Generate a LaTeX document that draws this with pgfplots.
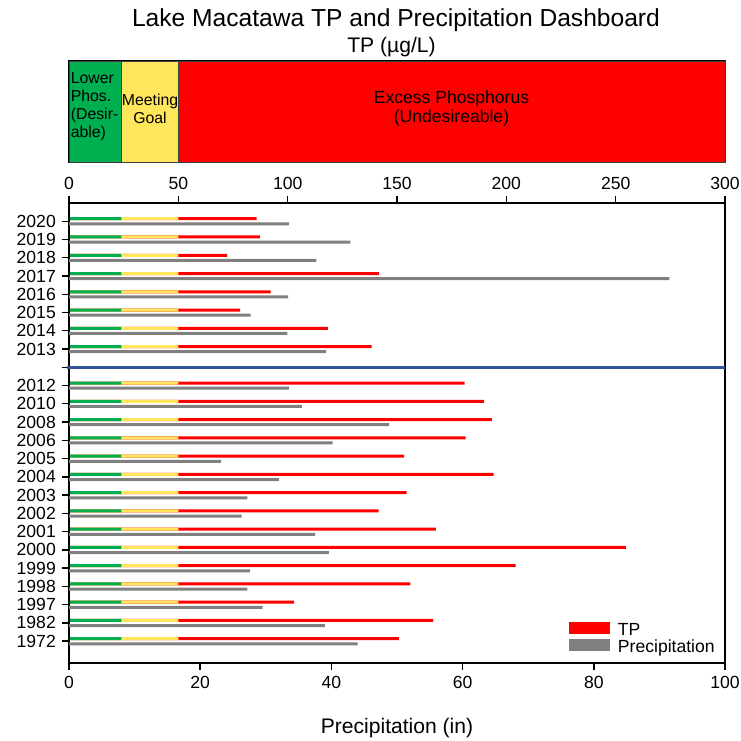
\documentclass[border=0pt]{standalone}
\usepackage{pgfplots}
\pgfplotsset{compat=1.18}
\usepackage{pgfplotstable}
\usepackage{fontspec}
\setmainfont{Liberation Sans}

\definecolor{lowgreen}{RGB}{0,176,80}
\definecolor{goalyellow}{RGB}{255,230,90}
\definecolor{tpred}{RGB}{255,0,0}
\definecolor{precgray}{RGB}{128,128,128}
\definecolor{sepblue}{RGB}{47,85,151}

% pos = row on the y axis (15 is the gap with the blue line)
\pgfplotstableread{
year pos tp    precip low goal
2020 23  85.8  33.5   24  50
2019 22  87.3  42.9   24  50
2018 21  72.3  37.7   24  50
2017 20  141.8 91.5   24  50
2016 19  92.2  33.4   24  50
2015 18  78.2  27.7   24  50
2014 17  118.4 33.3   24  50
2013 16  138.4 39.2   24  50
2012 14  180.9 33.5   24  50
2010 13  189.8 35.5   24  50
2008 12  193.4 48.8   24  50
2006 11  181.4 40.2   24  50
2005 10  153.2 23.2   24  50
2004 9   194.2 32.0   24  50
2003 8   154.4 27.2   24  50
2002 7   141.6 26.3   24  50
2001 6   167.8 37.5   24  50
2000 5   254.7 39.6   24  50
1999 4   204.3 27.6   24  50
1998 3   156.1 27.2   24  50
1997 2   103.0 29.5   24  50
1982 1   166.5 39.0   24  50
1972 0   150.9 44.0   24  50
}\dashdata

\begin{document}
\begin{tikzpicture}
\path[use as bounding box] (-1.38,-1.56) rectangle (13.42,13.26);

\node[font=\fontsize{14}{16}\selectfont] at (6.54,12.85) {Lake Macatawa TP and Precipitation Dashboard};
\node[font=\fontsize{12}{14}\selectfont] at (6.45,12.31) {TP (µg/L)};

% --- colour band (TP scale) ---
\begin{axis}[
  at={(0,10.02cm)}, anchor=south west,
  scale only axis, width=13.12cm, height=2.02cm,
  xmin=0, xmax=300, ymin=0, ymax=1,
  xbar stacked, bar width=2.02cm,
  ticks=none,
  axis line style={line width=0.6pt},
  clip=false
]
\addplot[fill=lowgreen, draw=black!75, line width=0.5pt] coordinates {(24,0.5)};
\addplot[fill=goalyellow, draw=black!75, line width=0.5pt] coordinates {(26,0.5)};
\addplot[fill=tpred, draw=black!75, line width=0.5pt] coordinates {(250,0.5)};
\end{axis}

% band texts (TP x/300*13.12 cm)
\node[font=\fontsize{9}{10.3}\selectfont, align=left, anchor=west, inner sep=0pt] at (0.03,11.12) {Lower\\Phos.\\(Desir-\\able)};
\node[font=\fontsize{9}{10.2}\selectfont, align=center, inner sep=0pt] at (1.62,11.08) {Meeting\\Goal};
\node[font=\fontsize{10}{11.3}\selectfont, align=center, inner sep=0pt] at (7.65,11.09) {Excess Phosphorus\\(Undesireable)};

% --- TP bars, top scale ---
\begin{axis}[
  at={(0,0)}, anchor=south west,
  scale only axis, width=13.12cm, height=9.2cm,
  xmin=0, xmax=300, ymin=-1.2, ymax=24,
  axis x line*=top, axis y line=none,
  xtick={0,50,...,300},
  tick align=outside, major tick length=0.14cm,
  tick style={black, line width=0.8pt},
  axis line style={line width=0.9pt},
  ticklabel style={font=\fontsize{10}{12}\selectfont},
  /pgf/number format/assume math mode=true,
  xbar, bar width=0.06cm
]
\addplot[fill=tpred, draw=none, bar shift=0.05cm] table[x=tp, y=pos] {\dashdata};
\addplot[fill=goalyellow, draw=none, bar shift=0.05cm] table[x=goal, y=pos] {\dashdata};
\addplot[fill=lowgreen, draw=none, bar shift=0.05cm] table[x=low, y=pos] {\dashdata};
\end{axis}

% --- precipitation, main frame ---
\begin{axis}[
  at={(0,0)}, anchor=south west,
  scale only axis, width=13.12cm, height=9.2cm,
  xmin=0, xmax=100, ymin=-1.2, ymax=24,
  xbar, bar width=0.06cm,
  xtick={0,20,...,100},
  ytick={0,...,23},
  yticklabels={1972,1982,1997,1998,1999,2000,2001,2002,2003,2004,2005,2006,2008,2010,2012,{},2013,2014,2015,2016,2017,2018,2019,2020},
  xtick pos=bottom, ytick pos=left,
  tick align=outside, major tick length=0.14cm,
  tick style={black, line width=0.8pt},
  axis line style={line width=0.9pt},
  xticklabel style={font=\fontsize{10}{12}\selectfont},
  yticklabel style={font=\fontsize{10}{12}\selectfont},
  /pgf/number format/assume math mode=true,
  xlabel={Precipitation (in)},
  xlabel style={font=\fontsize{12}{14}\selectfont, at={(axis description cs:0.5,-0.1413)}, anchor=center},
  legend image code/.code={\fill[#1] (0cm,-0.06cm) rectangle (0.82cm,0.18cm);},
  legend style={at={(axis description cs:0.762,0.092)}, anchor=north west,
    draw=none, fill=none, inner sep=0pt, row sep=-1.5pt, column sep=0.12cm,
    font=\fontsize{10}{12}\selectfont,
    nodes={inner sep=1pt, text height=7.2pt, text depth=2.2pt}},
  legend cell align=left,
  clip=false
]
\addlegendimage{fill=tpred, draw=none}
\addlegendentry{TP}
\addplot[fill=precgray, draw=none, bar shift=-0.054cm] table[x=precip, y=pos] {\dashdata};
\addlegendentry{Precipitation}
\addplot[sharp plot, no marks, sepblue, line width=1.6pt, forget plot] coordinates {(-0.3,15) (100,15)};
\end{axis}
\end{tikzpicture}
\end{document}
